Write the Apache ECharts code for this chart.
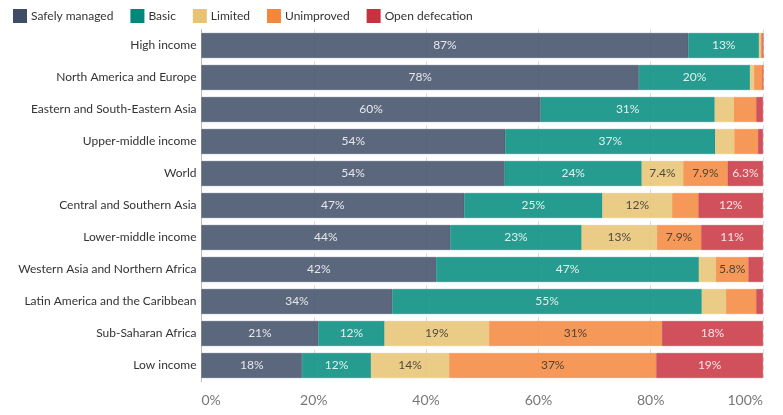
<!DOCTYPE html>
<html>
<head>
<meta charset="utf-8">
<script src="https://cdn.jsdelivr.net/npm/echarts@6/dist/echarts.min.js"></script>
<style>html,body{margin:0;padding:0;background:#fff;}#c{width:783px;height:415px;}</style>
</head>
<body>
<div id="c"></div>
<script>
var categories = ["High income","North America and Europe","Eastern and South-Eastern Asia","Upper-middle income","World","Central and Southern Asia","Lower-middle income","Western Asia and Northern Africa","Latin America and the Caribbean","Sub-Saharan Africa","Low income"];
var safelyManaged = [86.7, 77.9, 60.4, 54.1, 54.0, 46.8, 44.3, 41.8, 34.0, 20.8, 17.9];
var basic         = [12.6, 19.8, 31.0, 37.4, 24.4, 24.6, 23.4, 46.8, 55.1, 11.8, 12.3];
var limited       = [0.3, 0.7, 3.4, 3.4, 7.4, 12.4, 13.4, 3.0, 4.3, 18.6, 13.9];
var unimproved    = [0.4, 1.6, 4.0, 4.2, 7.9, 4.7, 7.9, 5.8, 5.4, 30.8, 36.9];
var openDefecation= [0.0, 0.0, 1.2, 0.9, 6.3, 11.5, 11.0, 2.6, 1.2, 18.0, 19.0];
var xTicks = [0, 20, 40, 60, 80, 100];

var seriesDefs = [
  {name:"Safely managed", data:safelyManaged, color:"#3e4c66", text:"#fff"},
  {name:"Basic", data:basic, color:"#00897b", text:"#fff"},
  {name:"Limited", data:limited, color:"#e8c372", text:"#333"},
  {name:"Unimproved", data:unimproved, color:"#f4873b", text:"#333"},
  {name:"Open defecation", data:openDefecation, color:"#c8313f", text:"#fff"}
];

function fmt(p){
  var v = p.value;
  if (v < 5.5) return '';
  return (v < 10 ? v.toFixed(1) : Math.round(v)) + '%';
}

var chart = echarts.init(document.getElementById('c'));
chart.setOption({
  animation:false,
  textStyle:{fontFamily:'Lato'},
  legend:{
    left:8, top:4, itemWidth:12, itemHeight:12, itemGap:17, icon:'rect',
    textStyle:{fontFamily:'Lato', fontSize:12, color:'#333'},
    itemStyle:{opacity:1},
    data: seriesDefs.map(function(s){return {name:s.name, itemStyle:{color:s.color, opacity:1}};})
  },
  grid:{left:201.5, right:20, top:29.5, height:352, containLabel:false},
  xAxis:{
    type:'value', min:0, max:100, interval:20,
    axisLine:{show:false}, axisTick:{show:false},
    axisLabel:{formatter:function(v){return xTicks.indexOf(v)>=0 ? v+'%' : '';}, color:'#777', fontSize:14, margin:12, fontFamily:'Lato', alignMinLabel:'left', alignMaxLabel:'right'},
    splitLine:{show:true, lineStyle:{type:[4,4], color:'#dcdcdc', width:1}}
  },
  yAxis:{
    type:'category', inverse:true, data:categories,
    axisLine:{show:true, lineStyle:{color:'#bbb'}}, axisTick:{show:false},
    axisLabel:{color:'#333', fontSize:12, margin:5, fontFamily:'Lato'}
  },
  series: seriesDefs.map(function(s){
    return {
      name:s.name, type:'bar', stack:'total', data:s.data,
      barCategoryGap:'22%',
      itemStyle:{color:s.color, opacity:0.85, borderColor:s.color, borderWidth:0.5},
      label:{show:true, position:'inside', formatter:fmt, color:s.text, fontSize:12, fontFamily:'Lato', textBorderWidth:0},
      emphasis:{disabled:true}
    };
  })
});
</script>
</body>
</html>
